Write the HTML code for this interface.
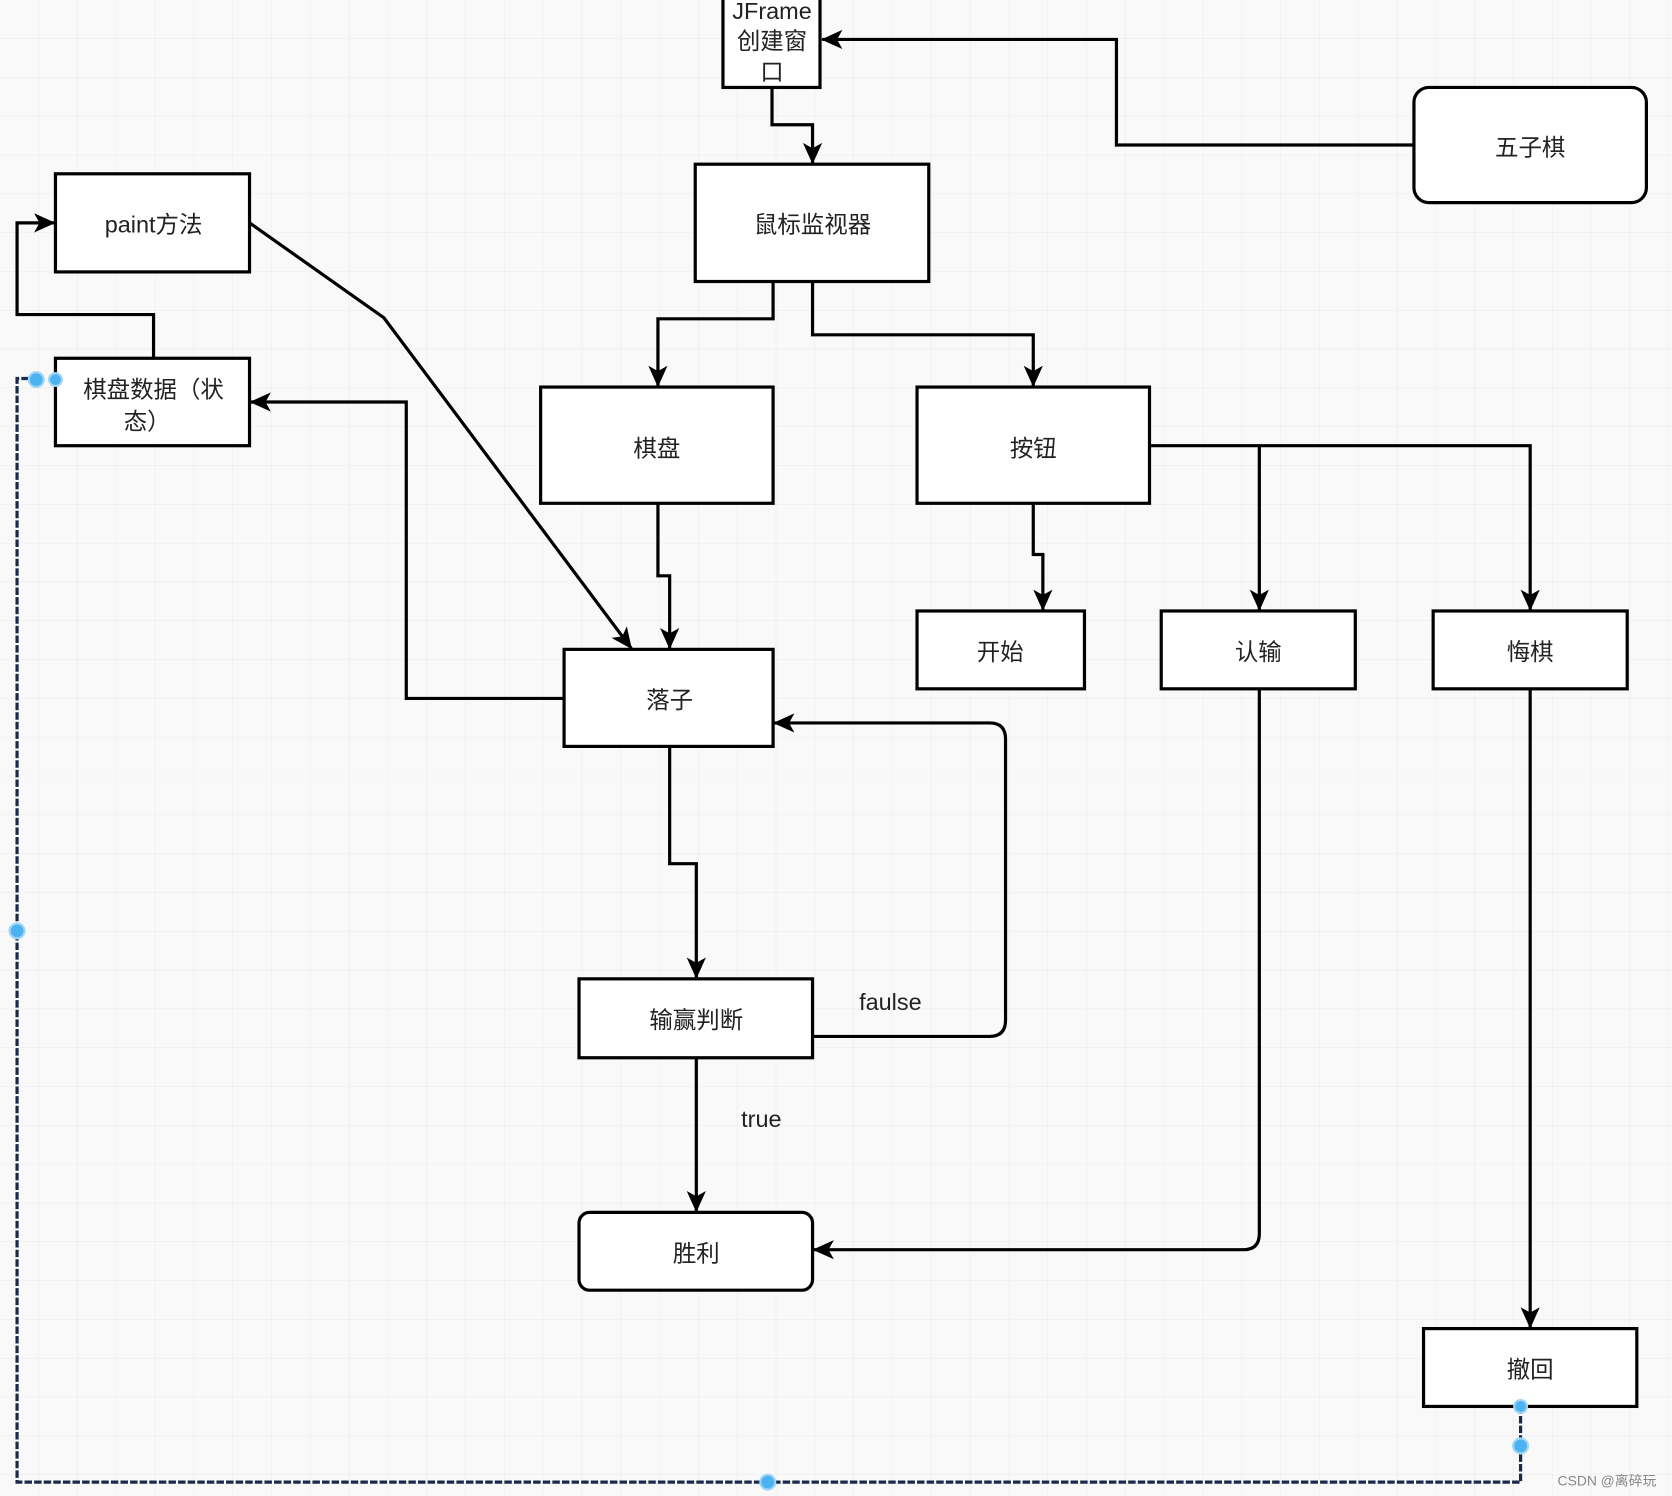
<!DOCTYPE html>
<html><head><meta charset="utf-8"><style>
html,body{margin:0;padding:0;background:#f9f9f9;}
svg{display:block;}
text{font-family:"Liberation Sans","Noto Sans CJK SC",sans-serif;font-size:22px;fill:#222;}
</style></head><body>
<svg width="1672" height="1496" viewBox="0 0 1568 1403" preserveAspectRatio="none" xmlns="http://www.w3.org/2000/svg">
<defs>
<pattern id="g" width="36.4" height="36.4" patternUnits="userSpaceOnUse">
<path d="M36.4 0V36.4H0" fill="none" stroke="#ebebeb" stroke-width="1"/>
</pattern>
<marker id="a" markerWidth="20" markerHeight="18" refX="19" refY="9" orient="auto" markerUnits="userSpaceOnUse" viewBox="0 0 20 18">
<path d="M0,0 L20,9 L0,18 L5,9 z" fill="#000"/>
</marker>
</defs>
<rect width="1568" height="1403" fill="#f9f9f9"/>
<rect width="1568" height="1403" fill="url(#g)"/>
<g fill="none" stroke="#000" stroke-width="3">
<rect x="678" y="-2" width="91" height="84" fill="#fff"/>
<rect x="1326" y="82" width="218" height="108" rx="14" fill="#fff"/>
<rect x="652" y="154" width="219" height="110" fill="#fff"/>
<rect x="52" y="163" width="182" height="92" fill="#fff"/>
<rect x="52" y="336" width="182" height="82" fill="#fff"/>
<rect x="507" y="363" width="218" height="109" fill="#fff"/>
<rect x="860" y="363" width="218" height="109" fill="#fff"/>
<rect x="529" y="609" width="196" height="91" fill="#fff"/>
<rect x="860" y="573" width="157" height="73" fill="#fff"/>
<rect x="1089" y="573" width="182" height="73" fill="#fff"/>
<rect x="1344" y="573" width="182" height="73" fill="#fff"/>
<rect x="543" y="918" width="219" height="74" fill="#fff"/>
<rect x="543" y="1137" width="219" height="73" rx="10" fill="#fff"/>
<rect x="1335" y="1246" width="200" height="73" fill="#fff"/>
<path d="M1326 136H1047V37H771" marker-end="url(#a)"/>
<path d="M724 82V117H762V153" marker-end="url(#a)"/>
<path d="M144 336V295H16V209H51" marker-end="url(#a)"/>
<path d="M725 264V299H617V362" marker-end="url(#a)"/>
<path d="M762 264V314H969V362" marker-end="url(#a)"/>
<path d="M617 472V540H628V608" marker-end="url(#a)"/>
<path d="M234 209L360 298L592 608" marker-end="url(#a)"/>
<path d="M529 655H381V377H235" marker-end="url(#a)"/>
<path d="M969 472V520H978V572" marker-end="url(#a)"/>
<path d="M1078 418H1435V572" marker-end="url(#a)"/>
<path d="M1181 418V572" marker-end="url(#a)"/>
<path d="M628 700V810H653V917" marker-end="url(#a)"/>
<path d="M762 972H928Q943 972 943 957V693Q943 678 928 678H726" marker-end="url(#a)"/>
<path d="M653 992V1136" marker-end="url(#a)"/>
<path d="M1181 646V1157Q1181 1172 1166 1172H763" marker-end="url(#a)"/>
<path d="M1435 646V1245" marker-end="url(#a)"/>
</g>
<path d="M1426 1319V1390H16V355H34" fill="none" stroke="#1a2a4a" stroke-width="3" stroke-dasharray="7 2"/>
<g fill="#4db3f0" stroke="#9fd6f7" stroke-width="2">
<circle cx="34" cy="356" r="7"/><circle cx="52" cy="356" r="6"/>
<circle cx="16" cy="873" r="7"/><circle cx="720" cy="1390" r="7"/>
<circle cx="1426" cy="1319" r="6"/><circle cx="1426" cy="1356" r="7"/>
</g>
<g text-anchor="middle">
<text x="724" y="18">JFrame</text>
<text x="724" y="46">创建窗</text>
<text x="724" y="75">口</text>
<text x="1435" y="146">五子棋</text>
<text x="762" y="218">鼠标监视器</text>
<text x="144" y="218">paint方法</text>
<text x="144" y="373">棋盘数据（状</text>
<text x="138" y="403">态）</text>
<text x="616" y="428">棋盘</text>
<text x="969" y="428">按钮</text>
<text x="628" y="664">落子</text>
<text x="938" y="619">开始</text>
<text x="1180" y="619">认输</text>
<text x="1435" y="619">悔棋</text>
<text x="653" y="964">输赢判断</text>
<text x="653" y="1183">胜利</text>
<text x="1435" y="1292">撤回</text>
<text x="835" y="947">faulse</text>
<text x="714" y="1057">true</text>
</g>
<text x="1507" y="1393" text-anchor="middle" style="font-size:13px;fill:#888">CSDN @离碎玩</text>
</svg>
</body></html>
